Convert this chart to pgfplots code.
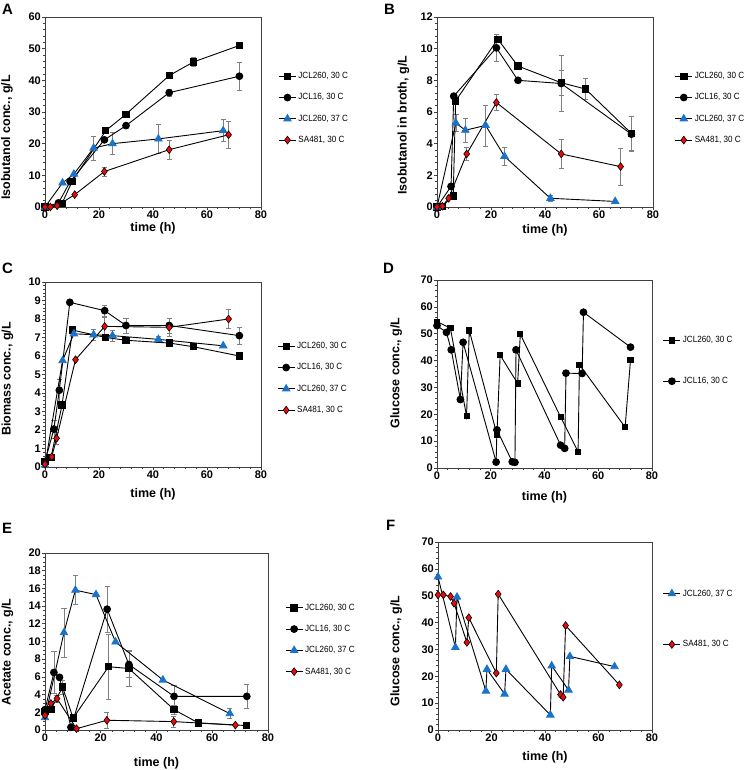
\documentclass[border=0pt]{standalone}
\usepackage{fontspec}
\setmainfont{Liberation Sans}
\newfontfamily\narrowfont[FakeStretch=0.9]{Liberation Sans}
\usepackage{pgfplots}
\pgfplotsset{compat=1.18}
\definecolor{myblue}{RGB}{25,115,200}
\definecolor{myred}{RGB}{235,10,10}
\pgfplotsset{
  panel/.style={scale only axis, xmin=0, xmax=80, xtick={0,20,...,80},
    minor x tick num=4, tick align=outside, xtick pos=left, ytick pos=left,
    axis line style={black!75, line width=0.8pt},
    major tick length=3pt, minor tick length=2pt,
    every tick/.style={black!75, line width=0.6pt},
    /pgf/number format/assume math mode=true,
    tick label style={font=\fontsize{11}{12}\selectfont\bfseries, inner sep=1pt},
    label style={font=\fontsize{12.5}{14}\selectfont\bfseries},
    clip=false, legend cell align=left,
    legend style={draw=none, fill=none, font=\narrowfont\fontsize{9}{10}\selectfont, row sep=9.5pt, inner sep=0pt, anchor=west,
      nodes={inner xsep=2pt}},
  },
  s260/.style={black, line width=0.9pt, mark=square*, mark size=3.2pt, mark options={solid, fill=black}},
  s16/.style={black, line width=0.9pt, mark=*, mark size=3.4pt, mark options={solid, fill=black}},
  s37/.style={black, line width=0.9pt, mark=triangle*, mark size=4.2pt, mark options={solid, fill=myblue, draw=myblue}},
  sSA/.style={black, line width=0.9pt, mark=diamond*, mark size=3.9pt, mark options={solid, fill=myred, draw=black, line width=0.6pt}},
  eb/.style={forget plot, draw=none, mark=none, error bars/.cd, y dir=both, y explicit,
    error bar style={draw=black!50, line width=0.6pt},
    error mark options={draw=black!50, rotate=90, mark size=2.6pt, line width=0.6pt}},
}
% ---------------- Panel A -----------------
\pgfplotstableread{
x y
0 0
6.3 1.1
10 8.0
22.5 24.1
30 29.3
46 41.5
55 45.8
72 51.0
}\Asq
\pgfplotstableread{
x y e
46 41.5 0.6
55 45.8 1.5
}\Asqe
\pgfplotstableread{
x y
0 0
5 1.3
9.3 8.0
22 21.2
30 25.7
46 36.1
72 41.3
}\Aci
\pgfplotstableread{
x y e
46 36.1 1.0
72 41.3 4.5
}\Acie
\pgfplotstableread{
x y
0 0
6.5 7.6
10.7 10.4
18 18.6
25 20.0
42 21.5
66 24.1
}\Atr
\pgfplotstableread{
x y e
18 18.6 3.8
25 20.0 3.5
42 21.5 4.7
66 24.1 3.5
}\Atre
\pgfplotstableread{
x y
0 0
2 0
4.5 0.4
11 3.9
22 11.2
46 18.1
68 22.8
}\Adi
\pgfplotstableread{
x y e
22 11.2 1.4
46 18.1 2.9
68 22.8 4.4
}\Adie
% ---------------- Panel B -----------------
\pgfplotstableread{
x y
0 0
2 0.05
6.0 0.7
6.9 6.7
22.5 10.6
30 8.9
46 7.85
55 7.45
72 4.65
}\Bsq
\pgfplotstableread{
x y e
22.5 10.6 0.2
46 7.85 0.8
55 7.45 0.65
72 4.65 1.1
}\Bsqe
\pgfplotstableread{
x y
0 0
5.2 1.3
6.2 7.0
22 10.05
30 8.0
46 7.8
72 4.6
}\Bci
\pgfplotstableread{
x y e
22 10.05 0.85
46 7.8 1.75
72 4.6 1.1
}\Bcie
\pgfplotstableread{
x y
0 0
7.0 5.3
10.5 4.85
18 5.15
25 3.2
42 0.55
66 0.35
}\Btr
\pgfplotstableread{
x y e
7.0 5.3 0.55
10.5 4.85 0.75
18 5.15 1.3
25 3.2 0.55
42 0.55 0.2
}\Btre
\pgfplotstableread{
x y
0 0
2 0.05
4.3 0.55
11 3.35
22 6.6
46 3.35
68 2.55
}\Bdi
\pgfplotstableread{
x y e
11 3.35 0.4
22 6.6 0.5
46 3.35 0.9
68 2.55 1.15
}\Bdie
% ---------------- Panel C -----------------
\pgfplotstableread{
x y
0 0.3
2.2 0.5
6.3 3.35
10.2 7.4
22.5 7.0
30 6.85
46 6.7
55 6.5
72 6.0
}\Csq
\pgfplotstableread{
x y
0 0.3
3.3 2.05
5.3 4.15
9.2 8.9
22.1 8.45
30 7.65
46 7.65
72 7.1
}\Cci
\pgfplotstableread{
x y e
3.3 2.05 0.5
5.3 4.15 0.6
22.1 8.45 0.3
30 7.65 0.4
46 7.65 0.4
72 7.1 0.45
}\Ccie
\pgfplotstableread{
x y
0 0.1
6.5 5.75
10.7 7.2
18 7.15
25 7.1
42 6.9
66 6.55
}\Ctr
\pgfplotstableread{
x y e
18 7.15 0.3
25 7.1 0.3
42 6.9 0.15
}\Ctre
\pgfplotstableread{
x y
0 0.15
2.5 0.55
4.3 1.55
11.3 5.8
22.1 7.6
46 7.55
68 8.0
}\Cdi
\pgfplotstableread{
x y e
4.3 1.55 0.3
22.1 7.6 0.5
46 7.55 0.5
68 8.0 0.5
}\Cdie
% ---------------- Panel D -----------------
\pgfplotstableread{
x y
0 54.5
5 52
11 19.3
12 51.2
22.3 12.5
23.5 42
30 31.5
31 49.8
46 19
52.5 6
53 38.5
70 15.2
72 40.2
}\Dsq
\pgfplotstableread{
x y
0 53
3.5 50.5
5.3 44
8.7 25.5
9.7 46.8
22 2.2
22.3 14.2
28 2.3
29 2.1
29.4 44
46 8.5
47.5 7.3
48 35.3
54 35.2
54.5 58
72 45
}\Dci
% ---------------- Panel E -----------------
\pgfplotstableread{
x y
0 2.1
2.1 2.3
6.3 4.85
10.1 1.35
22.8 7.15
30.1 6.95
46.3 2.3
55 0.8
72.3 0.5
}\Esq
\pgfplotstableread{
x y e
6.3 4.85 0.8
22.8 7.15 3.7
30.1 6.95 2.0
46.3 2.3 0.5
}\Esqe
\pgfplotstableread{
x y
0 2.3
3.2 6.5
5.2 5.95
9.3 0.3
22.3 13.65
30.1 7.4
46.3 3.8
72.4 3.8
}\Eci
\pgfplotstableread{
x y e
3.2 6.5 2.4
22.3 13.65 2.6
30.1 7.4 1.5
46.3 3.8 1.2
72.4 3.8 1.4
}\Ecie
\pgfplotstableread{
x y
0 1.4
6.8 11.0
10.9 15.8
18.3 15.3
25.3 9.95
42.3 5.65
66.3 1.85
}\Etr
\pgfplotstableread{
x y e
6.8 11.0 2.75
10.9 15.8 1.65
66.3 1.85 0.55
}\Etre
\pgfplotstableread{
x y
0 1.65
2.1 3.0
4.3 3.55
11.3 0.15
22.2 1.1
46.2 0.95
68.3 0.55
}\Edi
\pgfplotstableread{
x y e
4.3 3.55 0.4
22.2 1.1 0.9
46.2 0.95 0.6
}\Edie
% ---------------- Panel F -----------------
\pgfplotstableread{
x y
0 57
6.5 30.8
7.1 49.5
17.9 14.5
18.3 22.6
24.9 13.4
25.4 22.6
42 5.6
42.5 23.9
48.8 14.9
49.3 27.4
66 23.6
}\Ftr
\pgfplotstableread{
x y
0 50.3
2 50.3
4.7 49.7
6 47.2
10.8 32.6
11.5 41.8
21.8 21.2
22.5 50.6
45.8 13.2
46.8 12.2
47.7 38.9
67.8 16.8
}\Fdi
\begin{document}
\begin{tikzpicture}
\path[use as bounding box] (0pt,0pt) rectangle (747pt,770pt);
\tikzset{plab/.style={font=\fontsize{15}{17}\selectfont\bfseries, anchor=north west, inner sep=0pt}}
\node[plab] at (2pt,766pt) {A};
\node[plab] at (384pt,766pt) {B};
\node[plab] at (2pt,507pt) {C};
\node[plab] at (383pt,507pt) {D};
\node[plab] at (2pt,247pt) {E};
\node[plab] at (386pt,250pt) {F};
% A
\begin{axis}[panel, at={(45pt,563pt)}, anchor=south west, width=216pt, height=190pt,
  ymin=0, ymax=60, ytick={0,10,...,60}, minor y tick num=4,
  ylabel={Isobutanol conc., g/L}, xlabel={time (h)},
  ylabel style={at={(axis description cs:-0.176,0.366)}, anchor=center},
  xlabel style={at={(axis description cs:0.5,-0.112)}, anchor=center, inner sep=0pt},
  legend style={at={(axis description cs:1.08,0.52)}}]
\addplot[eb] table[y error=e] {\Asqe};
\addplot[eb] table[y error=e] {\Acie};
\addplot[eb] table[y error=e] {\Atre};
\addplot[eb] table[y error=e] {\Adie};
\addplot[s260] table {\Asq};
\addplot[s16] table {\Aci};
\addplot[s37] table {\Atr};
\addplot[sSA] table {\Adi};
\legend{JCL260{,} 30 C, JCL16{,} 30 C, JCL260{,} 37 C, SA481{,} 30 C}
\end{axis}
% B
\begin{axis}[panel, at={(437pt,563pt)}, anchor=south west, width=216pt, height=190pt,
  ymin=0, ymax=12, ytick={0,2,...,12}, minor y tick num=4,
  ylabel={Isobutanol in broth, g/L}, xlabel={time (h)},
  ylabel style={at={(axis description cs:-0.155,0.43)}, anchor=center},
  xlabel style={at={(axis description cs:0.5,-0.121)}, anchor=center},
  legend style={at={(axis description cs:1.10,0.52)}}]
\addplot[eb] table[y error=e] {\Bsqe};
\addplot[eb] table[y error=e] {\Bcie};
\addplot[eb] table[y error=e] {\Btre};
\addplot[eb] table[y error=e] {\Bdie};
\addplot[s260] table {\Bsq};
\addplot[s16] table {\Bci};
\addplot[s37] table {\Btr};
\addplot[sSA] table {\Bdi};
\legend{JCL260{,} 30 C, JCL16{,} 30 C, JCL260{,} 37 C, SA481{,} 30 C}
\end{axis}
% C
\begin{axis}[panel, at={(45pt,303pt)}, anchor=south west, width=216pt, height=185pt,
  ymin=0, ymax=10, ytick={0,1,...,10}, minor y tick num=4,
  ylabel={Biomass conc., g/L}, xlabel={time (h)},
  ylabel style={at={(axis description cs:-0.174,0.476)}, anchor=center},
  xlabel style={at={(axis description cs:0.5,-0.146)}, anchor=center},
  legend style={at={(axis description cs:1.074,0.48)}}]
\addplot[eb] table[y error=e] {\Ccie};
\addplot[eb] table[y error=e] {\Ctre};
\addplot[eb] table[y error=e] {\Cdie};
\addplot[s260] table {\Csq};
\addplot[s16] table {\Cci};
\addplot[s37] table {\Ctr};
\addplot[sSA] table {\Cdi};
\legend{JCL260{,} 30 C, JCL16{,} 30 C, JCL260{,} 37 C, SA481{,} 30 C}
\end{axis}
% D
\begin{axis}[panel, at={(437pt,302pt)}, anchor=south west, width=215pt, height=188pt,
  ymin=0, ymax=70, ytick={0,10,...,70}, minor y tick num=4,
  ylabel={Glucose conc., g/L}, xlabel={time (h)},
  ylabel style={at={(axis description cs:-0.19,0.505)}, anchor=center},
  xlabel style={at={(axis description cs:0.5,-0.154)}, anchor=center},
  legend style={at={(axis description cs:1.05,0.57)}, row sep=29pt}]
\addplot[s260, mark size=2.6pt] table {\Dsq};
\addplot[s16] table {\Dci};
\legend{JCL260{,} 30 C, JCL16{,} 30 C}
\end{axis}
% E
\begin{axis}[panel, at={(45pt,40pt)}, anchor=south west, width=223pt, height=177pt,
  ymin=0, ymax=20, ytick={0,2,...,20}, minor y tick num=3,
  ylabel={Acetate conc., g/L}, xlabel={time (h)},
  ylabel style={at={(axis description cs:-0.168,0.44)}, anchor=center},
  xlabel style={at={(axis description cs:0.5,-0.186)}, anchor=center},
  legend style={at={(axis description cs:1.076,0.51)}}]
\addplot[eb] table[y error=e] {\Esqe};
\addplot[eb] table[y error=e] {\Ecie};
\addplot[eb] table[y error=e] {\Etre};
\addplot[eb] table[y error=e] {\Edie};
\addplot[s260] table {\Esq};
\addplot[s16] table {\Eci};
\addplot[s37] table {\Etr};
\addplot[sSA] table {\Edi};
\legend{JCL260{,} 30 C, JCL16{,} 30 C, JCL260{,} 37 C, SA481{,} 30 C}
\end{axis}
% F
\begin{axis}[panel, at={(438pt,40pt)}, anchor=south west, width=214pt, height=188pt,
  ymin=0, ymax=70, ytick={0,10,...,70}, minor y tick num=4,
  ylabel={Glucose conc., g/L}, xlabel={time (h)},
  ylabel style={at={(axis description cs:-0.196,0.42)}, anchor=center},
  xlabel style={at={(axis description cs:0.5,-0.144)}, anchor=center},
  legend style={at={(axis description cs:1.05,0.59)}, row sep=39pt}]
\addplot[s37] table {\Ftr};
\addplot[sSA] table {\Fdi};
\legend{JCL260{,} 37 C, SA481{,} 30 C}
\end{axis}
\end{tikzpicture}
\end{document}
